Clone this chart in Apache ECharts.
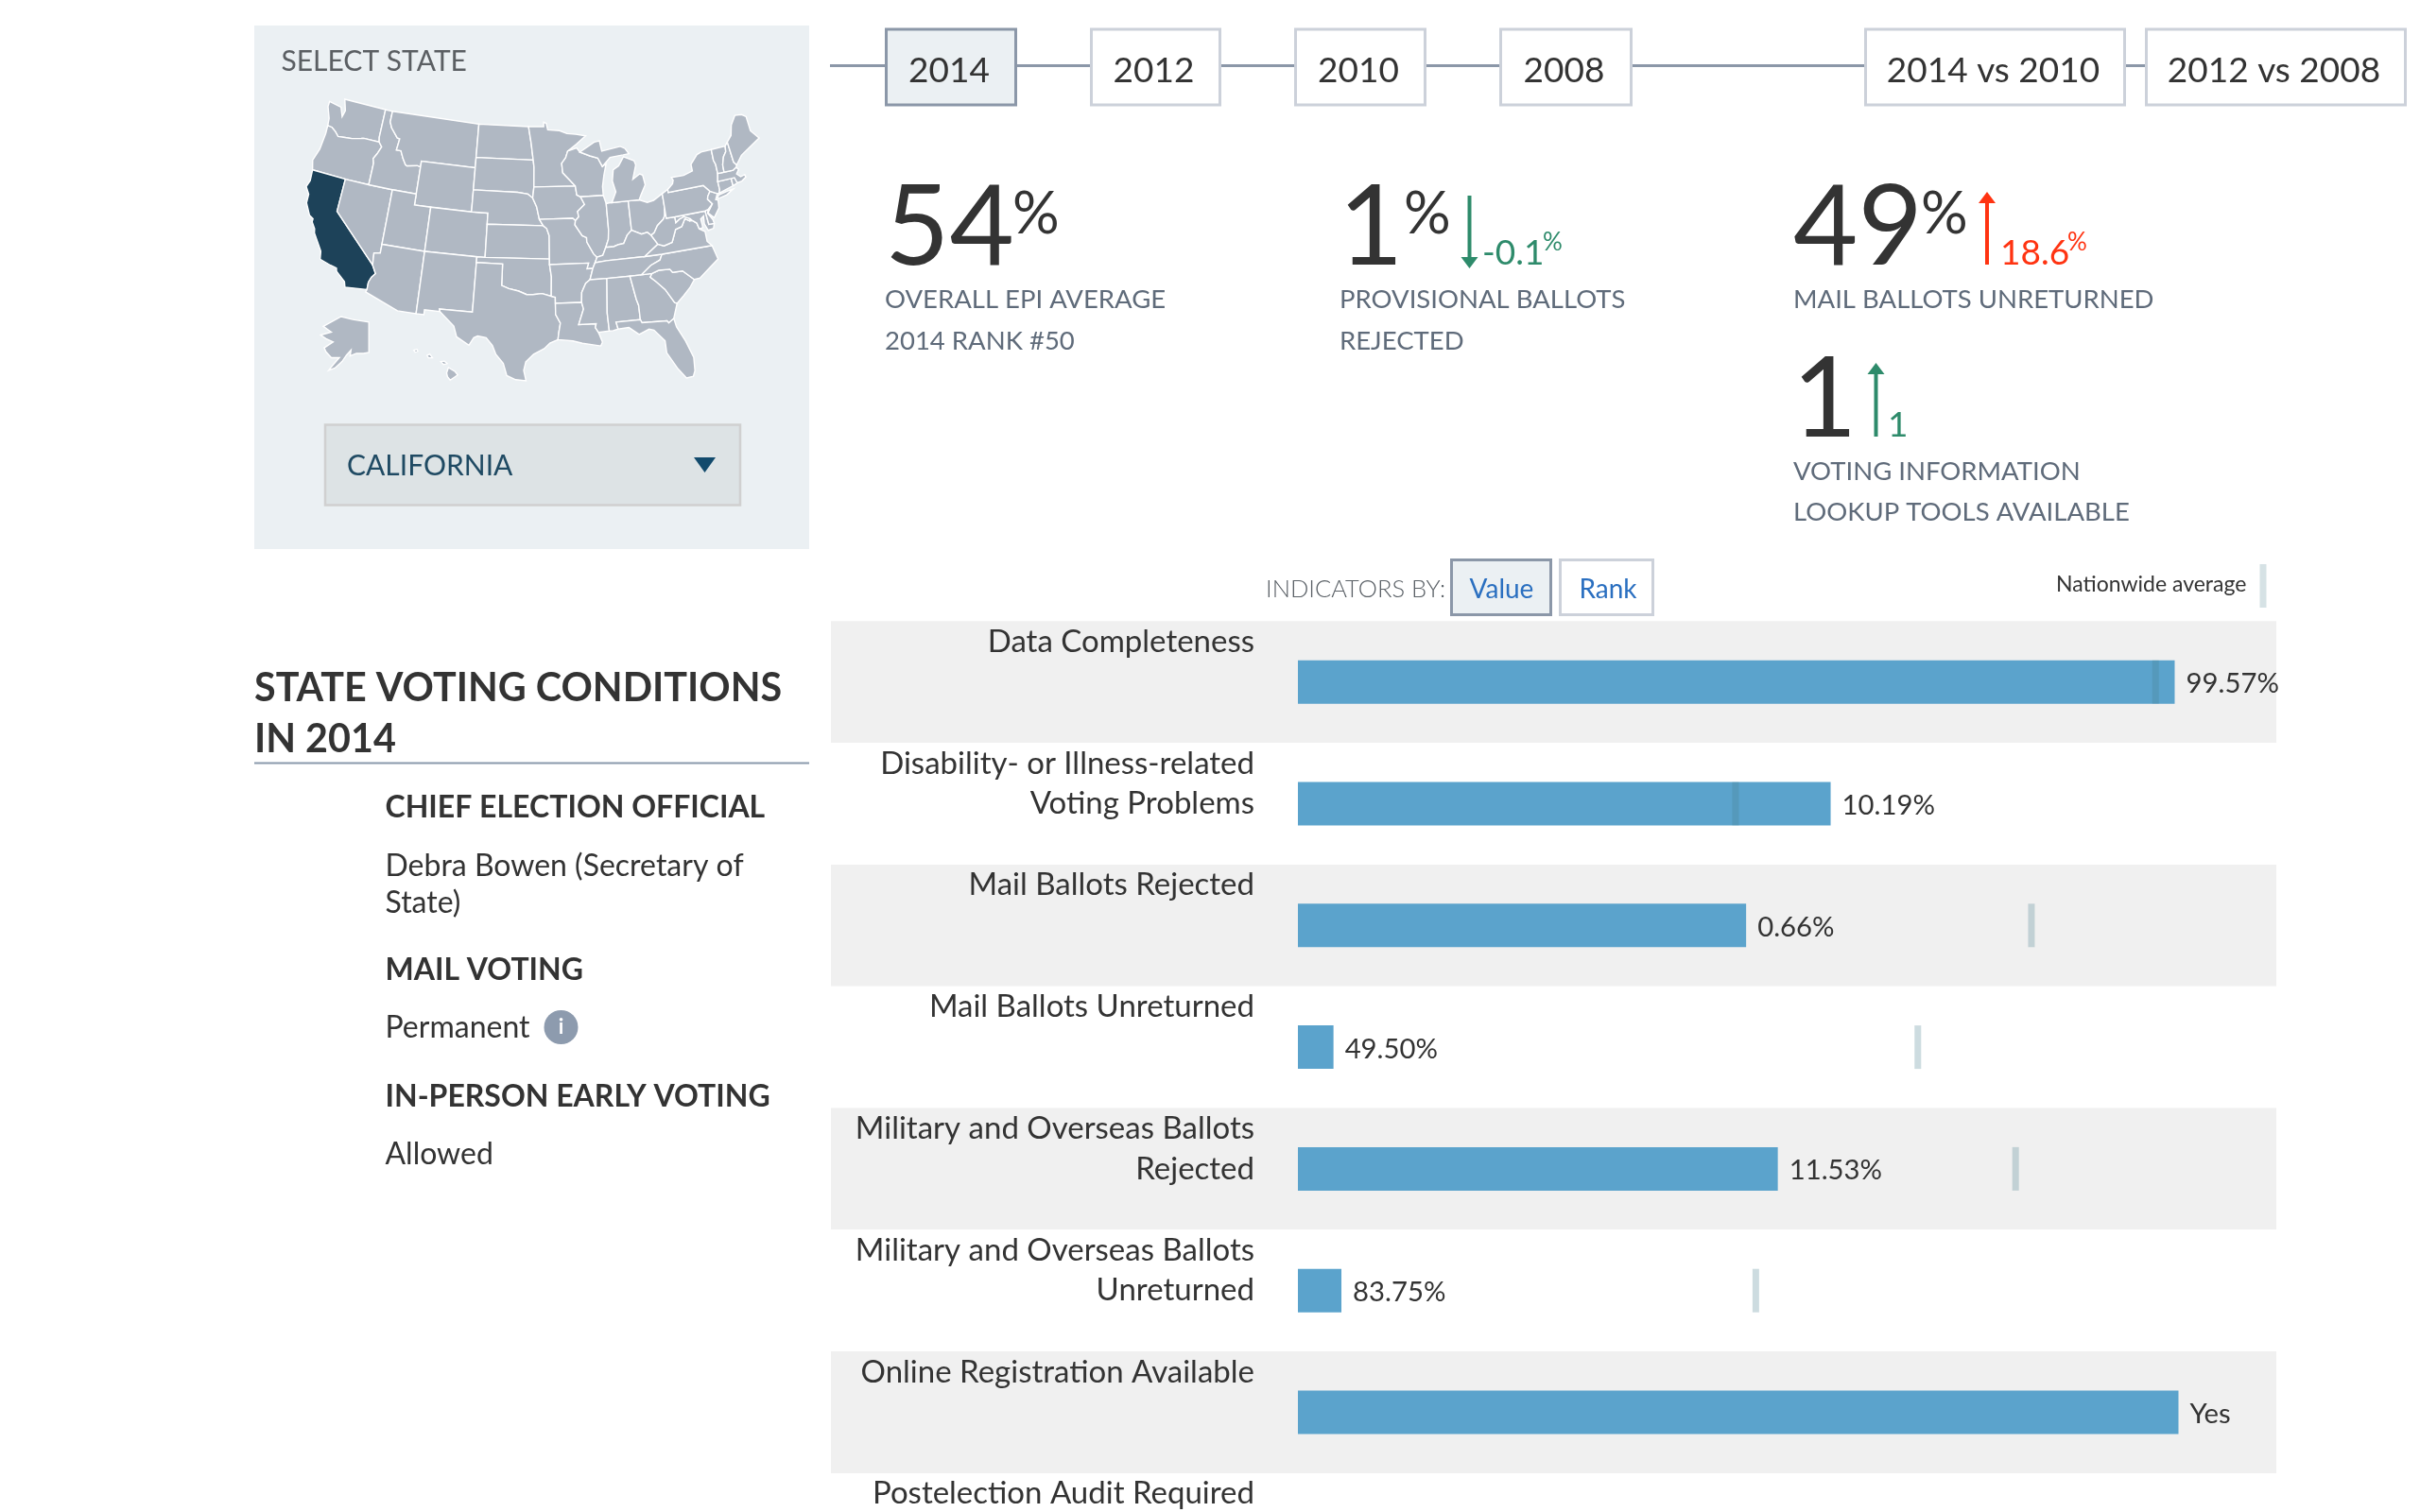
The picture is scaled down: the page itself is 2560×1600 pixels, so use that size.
<!DOCTYPE html>
<html lang="en">
<head>
    <meta charset="UTF-8">
    <title>State voting conditions in 2014</title>
    <style>
        html, body { margin: 0; padding: 0; background: #fff; overflow: hidden; }
        #chart { width: 2560px; height: 1600px; }
    </style>
    <script src="https://cdn.jsdelivr.net/npm/echarts@6/dist/echarts.min.js"></script>
</head>
<body>
<div id="chart"></div>
<script>
    // indicators, top to bottom (the last row is cut off by the page edge)
    const indicators = [
        'Data Completeness',
        'Disability- or Illness-related\nVoting Problems',
        'Mail Ballots Rejected',
        'Mail Ballots Unreturned',
        'Military and Overseas Ballots\nRejected',
        'Military and Overseas Ballots\nUnreturned',
        'Online Registration Available',
        'Postelection Audit Required'
    ];
    // bar length on the 0-100 indicator scale
    const barLength = [99.57, 60.5, 50.9, 4.04, 54.5, 4.94, 100, null];
    const valueLabels = ['99.57%', '10.19%', '0.66%', '49.50%', '11.53%', '83.75%', 'Yes', ''];
    // nationwide average tick on the same scale
    const nationalAverage = [97.4, 49.7, 83.3, 70.4, 81.5, 52.0, null, null];

    const yearTabs = ['2014', '2012', '2010', '2008'];
    const compareTabs = ['2014 vs 2010', '2012 vs 2008'];
    const selectedState = 'California';

    // simplified state outlines, [lon, lat]
    const stateShapes = {
        Washington: [[[-124.7,48.4],[-123.0,48.2],[-122.5,47.4],[-122.3,48.0],[-122.8,49],[-117.03,49],[-117.04,46.4],[-116.92,45.99],[-118.98,46],[-119.3,45.93],[-120.5,45.7],[-121.2,45.65],[-122.3,45.55],[-122.8,45.9],[-123.4,46.2],[-124,46.25],[-124.1,46.9],[-124.7,47.9]]],
        Oregon: [[[-124,46.25],[-123.4,46.2],[-122.8,45.9],[-122.3,45.55],[-121.2,45.65],[-120.5,45.7],[-119.3,45.93],[-118.98,46],[-116.92,45.99],[-116.46,45.6],[-116.85,44.9],[-117.2,44.4],[-117.03,44],[-117.03,42],[-120,42],[-124.21,42],[-124.55,42.84],[-124.1,44],[-123.95,45.5]]],
        California: [[[-124.21,42],[-120,42],[-120,39],[-114.63,35],[-114.13,34.3],[-114.5,33.9],[-114.72,33.4],[-114.72,32.72],[-117.12,32.53],[-117.3,33],[-118.4,33.75],[-118.5,34.03],[-119.2,34.15],[-120.5,34.45],[-120.65,35.15],[-121.9,36.6],[-122,36.95],[-122.5,37.5],[-122.5,37.8],[-123,38],[-123.75,39],[-123.8,39.8],[-124.35,40.4],[-124.1,41]]],
        Nevada: [[[-120,42],[-117.03,42],[-114.04,42],[-114.04,36.2],[-114.75,36.1],[-114.63,35],[-120,39]]],
        Idaho: [[[-117.03,49],[-116.05,49],[-116.05,48],[-115.7,47.5],[-114.7,46.7],[-114.35,46.65],[-114.5,45.6],[-113.9,45.6],[-113.45,44.95],[-113,44.45],[-112.8,44.37],[-111.5,44.55],[-111.05,44.48],[-111.05,42],[-114.04,42],[-117.03,42],[-117.03,44],[-117.2,44.4],[-116.85,44.9],[-116.46,45.6],[-116.92,45.99],[-117.04,46.4]]],
        Montana: [[[-116.05,49],[-104.05,49],[-104.05,45.94],[-104.05,45],[-111.05,45],[-111.05,44.48],[-111.5,44.55],[-112.8,44.37],[-113,44.45],[-113.45,44.95],[-113.9,45.6],[-114.5,45.6],[-114.35,46.65],[-114.7,46.7],[-115.7,47.5],[-116.05,48]]],
        Wyoming: [[[-111.05,45],[-104.05,45],[-104.05,43],[-104.05,41],[-111.05,41]]],
        Utah: [[[-114.04,42],[-111.05,42],[-111.05,41],[-109.05,41],[-109.05,37],[-114.04,37]]],
        Colorado: [[[-109.05,41],[-104.05,41],[-102.05,41],[-102.05,40],[-102.05,37],[-109.05,37]]],
        Arizona: [[[-114.04,37],[-109.05,37],[-109.05,31.33],[-111.07,31.33],[-114.81,32.5],[-114.72,32.72],[-114.72,33.4],[-114.5,33.9],[-114.13,34.3],[-114.63,35],[-114.75,36.1],[-114.04,36.2]]],
        'New Mexico': [[[-109.05,37],[-103,37],[-103,36.5],[-103.04,32],[-106.62,32],[-106.53,31.78],[-108.21,31.78],[-108.21,31.33],[-109.05,31.33]]],
        'North Dakota': [[[-104.05,49],[-97.23,49],[-96.85,47.5],[-96.56,45.94],[-104.05,45.94]]],
        'South Dakota': [[[-104.05,45.94],[-96.56,45.94],[-96.45,45.3],[-96.45,43.5],[-96.6,42.5],[-97.2,42.85],[-98.5,43],[-104.05,43]]],
        Nebraska: [[[-104.05,43],[-98.5,43],[-97.2,42.85],[-96.6,42.5],[-96.1,41.7],[-95.9,41],[-95.77,40.58],[-95.31,40],[-102.05,40],[-102.05,41],[-104.05,41]]],
        Kansas: [[[-102.05,40],[-95.31,40],[-94.9,39.75],[-94.61,39.1],[-94.62,37],[-102.05,37]]],
        Oklahoma: [[[-103,37],[-102.05,37],[-94.62,37],[-94.62,36.5],[-94.43,35.4],[-94.48,33.64],[-95.5,33.9],[-96.5,33.8],[-97.2,33.8],[-98.1,34.1],[-99.2,34.3],[-100,34.56],[-100,36.5],[-103,36.5]]],
        Texas: [[[-106.62,32],[-103.04,32],[-103,36.5],[-100,36.5],[-100,34.56],[-99.2,34.3],[-98.1,34.1],[-97.2,33.8],[-96.5,33.8],[-95.5,33.9],[-94.48,33.64],[-94.04,33.55],[-94.04,33],[-94.04,31.99],[-93.55,31.2],[-93.75,30.3],[-93.85,29.7],[-94.7,29.4],[-95.3,28.9],[-96.4,28.4],[-97.2,27.7],[-97.4,26.9],[-97.15,25.96],[-98.2,26.05],[-99.1,26.4],[-99.5,27.5],[-100.3,28.3],[-100.7,29.1],[-101.4,29.77],[-102.3,29.88],[-102.7,29.7],[-103.15,28.98],[-104.5,29.65],[-104.9,30.6],[-106.53,31.78]]],
        Minnesota: [[[-97.23,49],[-95.15,49],[-95.15,49.4],[-94.8,49.3],[-94.6,48.7],[-93,48.6],[-92,48.3],[-90.8,48.2],[-89.5,48],[-90.8,47.3],[-92,46.7],[-92.3,46.1],[-92.85,45.6],[-92.75,44.75],[-91.22,43.5],[-96.45,43.5],[-96.45,45.3],[-96.56,45.94],[-96.85,47.5]]],
        Iowa: [[[-96.45,43.5],[-91.22,43.5],[-91.1,42.7],[-90.64,42.5],[-90.2,41.8],[-91.1,41.2],[-91,40.7],[-91.42,40.38],[-91.73,40.6],[-95.77,40.58],[-95.9,41],[-96.1,41.7],[-96.6,42.5]]],
        Missouri: [[[-95.77,40.58],[-91.73,40.6],[-91.42,40.38],[-91.5,40],[-90.7,39],[-90.2,38.8],[-90.2,38.4],[-89.5,37.3],[-89.13,36.98],[-89.4,36.5],[-89.7,36],[-90.37,36],[-90.15,36.5],[-94.62,36.5],[-94.62,37],[-94.61,39.1],[-94.9,39.75],[-95.31,40]]],
        Arkansas: [[[-94.62,36.5],[-90.15,36.5],[-90.37,36],[-89.7,36],[-90.1,35],[-90.6,34.7],[-91.1,33.9],[-91.17,33],[-94.04,33],[-94.04,33.55],[-94.48,33.64],[-94.43,35.4]]],
        Louisiana: [[[-94.04,33],[-91.17,33],[-91,32.4],[-91.6,31],[-89.73,31],[-89.85,30.65],[-89.55,30.2],[-89.2,29.3],[-89.4,28.95],[-90.2,29.1],[-91.3,29.3],[-92.3,29.55],[-93.85,29.7],[-93.75,30.3],[-93.55,31.2],[-94.04,31.99]]],
        Wisconsin: [[[-92,46.7],[-90.8,46.95],[-90.4,46.55],[-89.1,46.15],[-88.1,45.9],[-87.6,45.1],[-87.1,45.3],[-87.5,44.3],[-87.8,43.3],[-87.8,42.49],[-90.64,42.5],[-91.1,42.7],[-91.22,43.5],[-92.75,44.75],[-92.85,45.6],[-92.3,46.1]]],
        Illinois: [[[-90.64,42.5],[-87.8,42.49],[-87.53,41.72],[-87.53,39.35],[-87.65,38.5],[-88.03,37.8],[-88.45,37.1],[-89.13,36.98],[-89.5,37.3],[-90.2,38.4],[-90.2,38.8],[-90.7,39],[-91.5,40],[-91.42,40.38],[-91,40.7],[-91.1,41.2],[-90.2,41.8]]],
        Indiana: [[[-87.53,41.72],[-87.2,41.76],[-84.8,41.76],[-84.82,39.1],[-85.4,38.7],[-85.9,38],[-86.5,37.95],[-87.1,37.8],[-88.03,37.8],[-87.65,38.5],[-87.53,39.35]]],
        Ohio: [[[-84.8,41.76],[-83.45,41.73],[-82.5,41.4],[-81.7,41.5],[-80.52,41.98],[-80.52,40.64],[-80.65,40],[-80.87,39.7],[-81.7,39.2],[-82.2,38.6],[-82.6,38.42],[-83,38.73],[-83.7,38.65],[-84.82,39.1]]],
        Kentucky: [[[-89.13,36.98],[-88.45,37.1],[-88.03,37.8],[-87.1,37.8],[-86.5,37.95],[-85.9,38],[-85.4,38.7],[-84.82,39.1],[-83.7,38.65],[-83,38.73],[-82.6,38.42],[-81.97,37.54],[-83.67,36.6],[-88.07,36.6],[-89.4,36.5]]],
        Tennessee: [[[-89.7,36],[-89.4,36.5],[-88.07,36.6],[-83.67,36.6],[-81.68,36.59],[-82,36.1],[-83.1,35.75],[-84.32,35],[-85.6,35],[-88.2,35],[-90.1,35]]],
        Mississippi: [[[-90.1,35],[-88.2,35],[-88.47,31.9],[-88.4,30.25],[-89.55,30.2],[-89.85,30.65],[-89.73,31],[-91.6,31],[-91,32.4],[-91.17,33],[-91.1,33.9],[-90.6,34.7]]],
        Alabama: [[[-88.2,35],[-85.6,35],[-85.18,32.87],[-85,32.3],[-85,31],[-87.6,31],[-87.45,30.35],[-88,30.25],[-88.4,30.25],[-88.47,31.9]]],
        Georgia: [[[-85.6,35],[-84.32,35],[-83.1,35],[-83.35,34.7],[-82.75,34.2],[-81.9,33.4],[-81.1,32.1],[-80.85,32],[-81.45,30.7],[-82.05,30.36],[-82.2,30.57],[-84.86,30.7],[-85,31],[-85,32.3],[-85.18,32.87]]],
        Florida: [[[-87.6,31],[-85,31],[-84.86,30.7],[-82.2,30.57],[-82.05,30.36],[-81.45,30.7],[-81.3,29.9],[-80.6,28.5],[-80.05,26.9],[-80.15,25.7],[-80.4,25.2],[-81.1,25.15],[-81.8,26.1],[-82.7,27.7],[-82.7,28.8],[-83.7,29.9],[-84.2,30.05],[-85.3,29.68],[-86.3,30.4],[-87.45,30.35]]],
        'South Carolina': [[[-83.35,34.7],[-83.1,35],[-82.3,35.2],[-81.05,35.15],[-80.8,34.82],[-79.67,34.8],[-78.55,33.86],[-79.2,33.2],[-80,32.6],[-80.85,32],[-81.1,32.1],[-81.9,33.4],[-82.75,34.2]]],
        'North Carolina': [[[-84.32,35],[-83.1,35],[-82.3,35.2],[-81.05,35.15],[-80.8,34.82],[-79.67,34.8],[-78.55,33.86],[-77.9,33.9],[-76.5,34.7],[-75.5,35.25],[-75.85,36.55],[-81.68,36.59],[-82,36.1],[-83.1,35.75]]],
        Virginia: [[[-83.67,36.6],[-81.68,36.59],[-75.85,36.55],[-76.3,37],[-76.3,37.9],[-76.9,38.25],[-77.05,38.8],[-77.5,39.1],[-77.83,39.13],[-78.35,39.4],[-78.87,38.76],[-79.65,38.59],[-80.3,37.5],[-81.3,37.3],[-81.97,37.54]]],
        'West Virginia': [[[-82.6,38.42],[-81.97,37.54],[-81.3,37.3],[-80.3,37.5],[-79.65,38.59],[-78.87,38.76],[-78.35,39.4],[-77.83,39.13],[-77.72,39.32],[-78.4,39.6],[-79,39.45],[-79.48,39.2],[-79.48,39.72],[-80.52,39.72],[-80.52,40.64],[-80.65,40],[-80.87,39.7],[-81.7,39.2],[-82.2,38.6]]],
        Maryland: [[[-79.48,39.72],[-75.79,39.72],[-75.7,38.46],[-75.05,38.45],[-75.25,38.03],[-75.9,37.95],[-76.2,38.6],[-76.1,39.3],[-76.5,39.1],[-76.45,38.3],[-76.9,38.25],[-77.05,38.8],[-77.5,39.1],[-77.72,39.32],[-78.4,39.6],[-79,39.45],[-79.48,39.2]]],
        Delaware: [[[-75.79,39.72],[-75.4,39.8],[-75.55,39.45],[-75.1,38.8],[-75.05,38.45],[-75.7,38.46]]],
        Pennsylvania: [[[-80.52,41.98],[-79.76,42.27],[-79.76,42],[-75.35,42],[-74.7,41.36],[-75.1,40.95],[-75.2,40.7],[-74.75,40.2],[-75.4,39.8],[-75.79,39.72],[-79.48,39.72],[-80.52,39.72],[-80.52,40.64]]],
        'New Jersey': [[[-74.7,41.36],[-73.9,41],[-74.25,40.5],[-73.98,40.4],[-74.1,39.7],[-74.9,38.95],[-75.5,39.5],[-74.75,40.2],[-75.2,40.7],[-75.1,40.95]]],
        'New York': [[[-79.76,42.27],[-79.05,42.7],[-78.9,43],[-79.05,43.27],[-77.5,43.25],[-76.3,43.5],[-76.3,44.1],[-75.3,44.85],[-74.7,45],[-73.35,45],[-73.4,44],[-73.25,43.6],[-73.27,42.75],[-73.5,42.05],[-73.5,41.3],[-73.65,41],[-73.9,41],[-74.7,41.36],[-75.35,42],[-79.76,42]],
            [[-74,40.6],[-73.75,40.85],[-72.6,41],[-71.9,41.05],[-72.8,40.7],[-73.9,40.55]]],
        Connecticut: [[[-73.5,42.05],[-71.8,42.02],[-71.8,41.35],[-73.65,41],[-73.5,41.3]]],
        'Rhode Island': [[[-71.8,42.02],[-71.38,42.02],[-71.2,41.5],[-71.8,41.35]]],
        Massachusetts: [[[-73.5,42.05],[-73.27,42.75],[-72.46,42.73],[-71.3,42.7],[-70.85,42.88],[-70.6,42.65],[-71,42.3],[-70.6,41.95],[-70.05,42.05],[-70,41.8],[-70.6,41.55],[-71.2,41.5],[-71.38,42.02],[-71.8,42.02]]],
        Vermont: [[[-73.35,45],[-71.5,45],[-71.6,44.5],[-72.05,44.1],[-72.4,43.4],[-72.46,42.73],[-73.27,42.75],[-73.25,43.6],[-73.4,44]]],
        'New Hampshire': [[[-71.5,45],[-71.1,45.3],[-70.98,43.4],[-70.7,43.07],[-70.85,42.88],[-71.3,42.7],[-72.46,42.73],[-72.4,43.4],[-72.05,44.1],[-71.6,44.5]]],
        Maine: [[[-71.1,45.3],[-70.4,45.8],[-70,46.7],[-69.2,47.45],[-68.3,47.35],[-67.8,47.05],[-67.8,45.7],[-67,44.85],[-68.5,44.3],[-69.8,43.8],[-70.7,43.07],[-70.98,43.4]]],
        Michigan: [[[-86.82,41.76],[-84.8,41.76],[-83.45,41.73],[-83.1,42.2],[-82.45,43],[-82.6,43.9],[-82.95,44.05],[-83.9,43.65],[-83.3,44.9],[-83.45,45.3],[-84.75,45.78],[-85.5,45],[-86.25,44.7],[-86.5,43.7],[-86.2,42.7]],
            [[-90.4,46.55],[-88.4,47.37],[-87.7,47.45],[-87.5,46.5],[-85,46.75],[-84.4,46.5],[-84,46],[-84.75,45.95],[-86.5,45.85],[-87.6,45.1],[-88.1,45.9],[-89.1,46.15]]],
        Alaska: [[[-141,69.6],[-141,60.3],[-144,60],[-148,60],[-151.5,59.2],[-151,61],[-153.5,59.5],[-156,57.5],[-160,55.5],[-163.5,54.8],[-161,56.5],[-157.5,58.7],[-162,58.7],[-165,60.5],[-166,61.7],[-161,63.5],[-165,64.5],[-168,65.6],[-162,66.5],[-166.5,68.3],[-156.5,71.3],[-150,70.4]]],
        Hawaii: [[[-156.05,19.7],[-155.85,20.27],[-155.1,19.85],[-154.8,19.5],[-155.65,18.95],[-155.95,19.3]],
            [[-156.7,20.9],[-156.3,20.95],[-156,20.7],[-156.4,20.6]],
            [[-158.25,21.55],[-157.95,21.7],[-157.65,21.3],[-158.1,21.3]],
            [[-159.75,22.1],[-159.4,22.2],[-159.3,22],[-159.6,21.9]]]
    };

    const rad = Math.PI / 180;
    const mapScale = 665;
    const albersN = (Math.sin(29.5 * rad) + Math.sin(45.5 * rad)) / 2;
    const albersC = Math.pow(Math.cos(29.5 * rad), 2) + 2 * albersN * Math.sin(29.5 * rad);
    const albersR0 = Math.sqrt(albersC - 2 * albersN * Math.sin(37.5 * rad)) / albersN;

    // Albers for the lower 48, Alaska and Hawaii moved into an inset under the west
    function projectUsa(p) {
        const lon = p[0], lat = p[1];
        if (lat > 50) {
            return [-204 + (lon + 154.5) * 0.55 * 3.44, 95 - (lat - 63) * 3.44];
        }
        if (lon < -150) {
            return [-91 + (lon + 155.5) * Math.cos(20 * rad) * 10, 127 - (lat - 19.6) * 10];
        }
        const r = Math.sqrt(albersC - 2 * albersN * Math.sin(lat * rad)) / albersN;
        const a = albersN * (lon + 96) * rad;
        return [mapScale * r * Math.sin(a), -mapScale * (albersR0 - r * Math.cos(a))];
    }

    function unprojectUsa(xy) {
        const x = xy[0] / mapScale, y = albersR0 + xy[1] / mapScale;
        const r = Math.sqrt(x * x + y * y);
        const lat = Math.asin((albersC - Math.pow(r * albersN, 2)) / (2 * albersN)) / rad;
        return [-96 + Math.atan2(x, y) / albersN / rad, lat];
    }

    const usaGeo = {
        type: 'FeatureCollection',
        features: Object.keys(stateShapes).map(name => ({
            type: 'Feature',
            properties: {name: name},
            geometry: {type: 'MultiPolygon', coordinates: stateShapes[name].map(ring => [ring.concat([ring[0]])])}
        }))
    };
    echarts.registerMap('usa', usaGeo);

    const font = 'Lato';
    const ink = '#333333';
    const slate = '#5f6b7a';
    const green = '#2e8b6b';
    const red = '#ff3311';

    function text(str, x, y, size, fill, extra) {
        return {
            type: 'text', silent: true, z: 5,
            style: Object.assign({
                text: str, x: x, y: y, fill: fill,
                font: (extra && extra.weight || 'normal') + ' ' + size + 'px ' + font,
                verticalAlign: 'middle', align: 'left'
            }, extra && extra.style)
        };
    }

    function box(x, y, w, h, fill, stroke, lw) {
        return {
            type: 'rect', silent: true, z: -5,
            shape: {x: x, y: y, width: w, height: h},
            style: {fill: fill, stroke: stroke || null, lineWidth: lw || 0}
        };
    }

    function hline(x1, x2, y, color, lw) {
        return {
            type: 'line', silent: true, z: -6,
            shape: {x1: x1, y1: y, x2: x2, y2: y},
            style: {stroke: color, lineWidth: lw}
        };
    }

    // vertical change arrow, head at the tipY end
    function arrow(x, tipY, tailY, color) {
        const dir = tailY > tipY ? 1 : -1;
        return [
            {
                type: 'line', silent: true, z: 5,
                shape: {x1: x, y1: tipY + dir * 8, x2: x, y2: tailY},
                style: {stroke: color, lineWidth: 4}
            },
            {
                type: 'polygon', silent: true, z: 5,
                shape: {points: [[x, tipY], [x - 9, tipY + dir * 12], [x + 9, tipY + dir * 12]]},
                style: {fill: color}
            }
        ];
    }

    const tabBoxes = [[936, 140], [1153, 139], [1369, 140], [1586, 141]];
    const compareBoxes = [[1972, 277], [2269, 277]];

    const graphics = [
        // state picker panel
        box(269, 27, 587, 554, '#ebf0f3'),
        text('SELECT STATE', 297.5, 65.5, 30, '#5b5f63'),
        box(344, 449.5, 439, 85, '#dde3e5', '#d0d0d0', 2.5),
        text('CALIFORNIA', 367, 493.5, 30, '#1f4a63'),
        {
            type: 'polygon', silent: true, z: 5,
            shape: {points: [[734, 484], [757, 484], [745.5, 500]]},
            style: {fill: '#124a6c'}
        },

        // year tabs on their line
        hline(878, 1972, 69.5, '#8b97a8', 3),
        hline(2249, 2269, 69.5, '#8b97a8', 3)
    ];

    yearTabs.forEach((year, i) => {
        const b = tabBoxes[i];
        const active = i === 0;
        graphics.push(box(b[0] + 1.5, 31, b[1] - 3, 80, active ? '#ebf0f3' : '#ffffff', active ? '#8b97a8' : '#ccd1da', 3));
        graphics.push(text(year, b[0] + b[1] / 2 - 2, 75, 37, ink, {style: {align: 'center'}}));
    });
    compareTabs.forEach((label, i) => {
        const b = compareBoxes[i];
        graphics.push(box(b[0] + 1.5, 31, b[1] - 3, 80, '#ffffff', '#ccd1da', 3));
        graphics.push(text(label, b[0] + b[1] / 2 - 2, 75, 37, ink, {style: {align: 'center'}}));
    });

    graphics.push(
        // headline numbers
        text('54', 936, 242, 118, ink),
        text('%', 1071, 227, 62, ink),
        text('OVERALL EPI AVERAGE', 936, 317.5, 27.5, slate),
        text('2014 RANK #50', 936, 361, 27.5, slate),

        text('1', 1416, 242, 118, ink),
        text('%', 1485, 227, 62, ink),
        ...arrow(1554.5, 284, 207, green),
        text('-0.1', 1568, 268, 37, green),
        text('%', 1632, 257, 26, green),
        text('PROVISIONAL BALLOTS', 1417, 317.5, 27.5, slate),
        text('REJECTED', 1417, 361, 27.5, slate),

        text('49', 1897, 242, 118, ink),
        text('%', 2032, 227, 62, ink),
        ...arrow(2102, 203, 280, red),
        text('18.6', 2116, 268, 37, red),
        text('%', 2187, 257, 26, red),
        text('MAIL BALLOTS UNRETURNED', 1897, 317.5, 27.5, slate),

        text('1', 1896, 424, 118, ink),
        ...arrow(1984.5, 384, 462, green),
        text('1', 1997, 450, 37, green),
        text('VOTING INFORMATION', 1897, 499, 27.5, slate),
        text('LOOKUP TOOLS AVAILABLE', 1897, 542.5, 27.5, slate),

        // left column
        text('STATE VOTING CONDITIONS', 269, 728.5, 41.3, ink, {weight: 'bold'}),
        text('IN 2014', 269, 782.5, 41.3, ink, {weight: 'bold'}),
        hline(269, 856, 807.5, '#8a99ab', 2),
        text('CHIEF ELECTION OFFICIAL', 407.5, 854.5, 32, ink, {weight: 'bold'}),
        text('Debra Bowen (Secretary of', 407.5, 916.5, 32, ink),
        text('State)', 407.5, 956, 32, ink),
        text('MAIL VOTING', 407.5, 1027, 32, ink, {weight: 'bold'}),
        text('Permanent', 407.5, 1088, 32, ink),
        {
            type: 'circle', silent: true, z: 5,
            shape: {cx: 593.5, cy: 1087, r: 18},
            style: {fill: '#8d9bae'}
        },
        text('i', 593.5, 1087, 22, '#ffffff', {weight: 'bold', style: {align: 'center'}}),
        text('IN-PERSON EARLY VOTING', 407.5, 1161, 32, ink, {weight: 'bold'}),
        text('Allowed', 407.5, 1222, 32, ink),

        // value / rank switch and legend
        text('INDICATORS BY:', 1339, 623.5, 25.5, '#5a6066', {weight: 300}),
        box(1535.5, 592.5, 105, 58, '#ebf0f3', '#8b97a8', 3),
        text('Value', 1588.5, 623.5, 28, '#2a6fc0', {style: {align: 'center'}}),
        box(1650.5, 592.5, 98, 58, '#ffffff', '#ccd1da', 3),
        text('Rank', 1701, 623.5, 28, '#2a6fc0', {style: {align: 'center'}}),
        text('Nationwide average', 2175, 619, 23, ink),
        box(2390.5, 597, 7, 46, '#d6e2e5')
    );

    // grid runs the full row width, value 0 sits at the bars' left edge
    const gridLeft = 879, gridWidth = 1529, zeroX = 1373, pxPerUnit = 9.315;
    const rowTop = 657.3, rowHeight = 128.8;

    // labels hang from the top of their row: pad every one to three lines
    function rowLabel(name) {
        return name + '\n '.repeat(3 - name.split('\n').length);
    }

    const myChart = echarts.init(document.getElementById('chart'));
    const option = {
        animation: false,
        backgroundColor: '#ffffff',
        tooltip: {show: false},
        graphic: graphics,
        geo: {
            map: 'usa',
            silent: true,
            roam: false,
            z: 2,
            projection: {project: projectUsa, unproject: unprojectUsa},
            left: 324, top: 105, width: 479, height: 298,
            label: {show: false},
            itemStyle: {areaColor: '#b0b8c3', borderColor: '#ffffff', borderWidth: 1.4},
            regions: [{name: selectedState, itemStyle: {areaColor: '#1d4259'}}]
        },
        grid: {
            left: gridLeft, top: rowTop, width: gridWidth, height: rowHeight * indicators.length,
            containLabel: false, outerBoundsMode: 'none'
        },
        xAxis: {
            type: 'value', show: false,
            min: (gridLeft - zeroX) / pxPerUnit,
            max: (gridLeft + gridWidth - zeroX) / pxPerUnit,
            splitLine: {show: false}
        },
        yAxis: {
            type: 'category',
            inverse: true,
            data: indicators,
            axisLine: {show: false},
            axisTick: {show: false},
            splitLine: {show: false},
            splitArea: {show: true, areaStyle: {color: ['#f0f0f0', '#ffffff']}},
            axisLabel: {
                interval: 0, inside: true, margin: zeroX - gridLeft - 46,
                align: 'right', verticalAlign: 'middle',
                fontFamily: font, fontSize: 33, lineHeight: 42.5, color: ink,
                formatter: rowLabel
            }
        },
        series: [
            {
                type: 'bar',
                data: barLength,
                barWidth: 46,
                silent: true,
                itemStyle: {color: '#5ba3cc'},
                label: {
                    show: true, position: 'right', distance: 12, offset: [0, 2],
                    fontFamily: font, fontSize: 29.3, color: ink,
                    formatter: p => valueLabels[p.dataIndex]
                }
            },
            {
                type: 'scatter',
                data: nationalAverage.map((v, i) => [v, i]).filter(d => d[0] !== null),
                symbol: 'rect',
                symbolSize: [7, 46],
                silent: true,
                z: 4,
                itemStyle: {color: 'rgba(70,125,140,0.27)', opacity: 1}
            }
        ]
    };
    myChart.setOption(option);
</script>
</body>
</html>
